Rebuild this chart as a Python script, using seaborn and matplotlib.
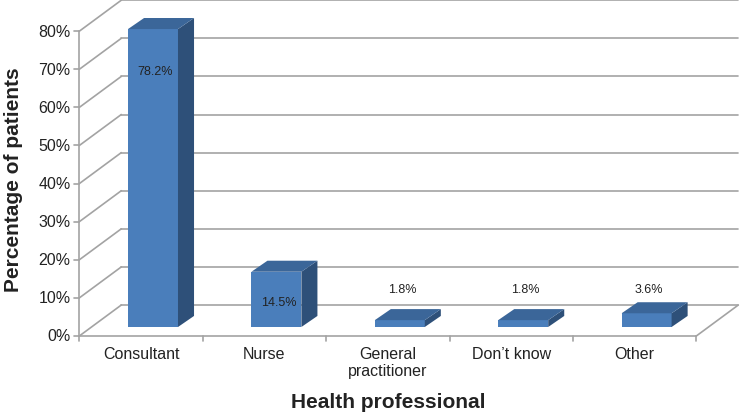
"""
Pseudo-3D bar chart: who patients named as their main health professional.
Front faces come from seaborn's barplot; the depth (top/side faces, walls,
floor) is added as offset polygons in the same data coordinates.
"""

import matplotlib
matplotlib.use("Agg")
import matplotlib.pyplot as plt
from matplotlib.patches import Polygon
import seaborn as sns

sns.set_theme(style="white")
plt.rcParams["font.family"] = ["Liberation Sans", "DejaVu Sans"]

categories = ["Consultant", "Nurse", "General\npractitioner", "Don\u2019t know", "Other"]
percent = [78.2, 14.5, 1.8, 1.8, 3.6]
y_ticks = [0, 10, 20, 30, 40, 50, 60, 70, 80]

FRONT = "#4a7ebb"
TOP = "#3b6699"
SIDE = "#2e5079"
GRID = "#a3a3a3"
TEXT = "#222222"

# depth offsets (category units, percent units) relative to the bar front plane
BAR_D = (0.13, 2.9)        # bar's own depth
FLOOR_F = (-0.097, -2.36)  # front edge of floor / wall
FLOOR_B = (0.243, 5.77)    # back wall

fig = plt.figure(figsize=(7.4, 4.14), dpi=100)
ax = fig.add_axes([0, 0, 1, 1])

sns.barplot(x=categories, y=percent, color=FRONT, saturation=1, width=0.405,
            linewidth=0, ax=ax, zorder=3)

n = len(categories)
left, right = -0.5, n - 0.5

# back wall gridlines + left wall diagonals
for v in y_ticks:
    ax.plot([left + FLOOR_B[0], right + FLOOR_B[0]], [v + FLOOR_B[1]] * 2,
            color=GRID, lw=1.2, zorder=1)
    ax.plot([left + FLOOR_F[0], left + FLOOR_B[0]], [v + FLOOR_F[1], v + FLOOR_B[1]],
            color=GRID, lw=1.2, zorder=1)
    # y tick mark + label on the front edge
    ax.plot([left + FLOOR_F[0] - 0.04, left + FLOOR_F[0]], [v + FLOOR_F[1]] * 2,
            color=GRID, lw=1.2, zorder=1)
    ax.text(left + FLOOR_F[0] - 0.07, v + FLOOR_F[1], f"{v}%", ha="right",
            va="center", fontsize=11.5, color=TEXT)

# front vertical axis
ax.plot([left + FLOOR_F[0]] * 2, [FLOOR_F[1], y_ticks[-1] + FLOOR_F[1]],
        color=GRID, lw=1.2, zorder=1)
# floor front edge and right edge
ax.plot([left + FLOOR_F[0], right + FLOOR_F[0]], [FLOOR_F[1]] * 2, color=GRID, lw=1.2, zorder=1)
ax.plot([right + FLOOR_F[0], right + FLOOR_B[0]], [FLOOR_F[1], FLOOR_B[1]],
        color=GRID, lw=1.2, zorder=1)
# category ticks + labels
for i in range(n + 1):
    x = i - 0.5 + FLOOR_F[0]
    ax.plot([x, x], [FLOOR_F[1], FLOOR_F[1] - 1.4], color=GRID, lw=1.2, zorder=1)
for i, c in enumerate(categories):
    ax.text(i + FLOOR_F[0], FLOOR_F[1] - 2.6, c, ha="center", va="top",
            fontsize=11.5, color=TEXT, linespacing=1.15)

# depth faces for each bar
for p in ax.patches[:n]:
    x0, x1 = p.get_x(), p.get_x() + p.get_width()
    h = p.get_height()
    dx, dy = BAR_D
    ax.add_patch(Polygon([(x1, 0), (x1 + dx, dy), (x1 + dx, h + dy), (x1, h)],
                         closed=True, facecolor=SIDE, edgecolor="none", zorder=3))
    ax.add_patch(Polygon([(x0, h), (x1, h), (x1 + dx, h + dy), (x0 + dx, h + dy)],
                         closed=True, facecolor=TOP, edgecolor="none", zorder=3))

# value labels: inside tall bars, above the short ones
label_at = [67.2, 6.6, 10.0, 10.0, 10.0]
for i, (v, ly) in enumerate(zip(percent, label_at)):
    ax.text(i + 0.02, ly, f"{v}%", ha="center", va="center", fontsize=9,
            color=TEXT, zorder=4)

ax.text(0.524, 0.027, "Health professional", transform=ax.transAxes, ha="center",
        va="center", fontsize=15, fontweight="bold", color=TEXT)
ax.text(0.018, 0.565, "Percentage of patients", transform=ax.transAxes, ha="center",
        va="center", rotation=90, fontsize=15, fontweight="bold", color=TEXT)

# pixel-matched view: bar front plane origin at (153, 328) px of 740x414
ax.set_xlim(-153 / 123.4, (740 - 153) / 123.4)
ax.set_ylim(-(414 - 328) / 3.81, 328 / 3.81)
ax.axis("off")

fig.savefig("out.png", dpi=100)
plt.close(fig)
